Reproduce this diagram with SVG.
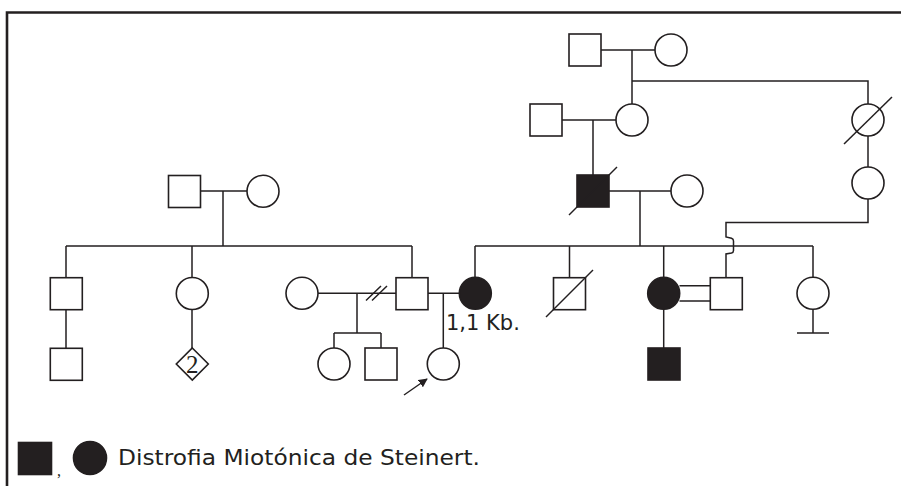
<svg xmlns="http://www.w3.org/2000/svg" width="901" height="486" viewBox="0 0 901 486">
<defs>
<style>
.ln{fill:none;stroke:#231f20;stroke-width:1.5}
.nd{fill:#fff;stroke:#231f20;stroke-width:1.6}
.af{fill:#231f20;stroke:#231f20;stroke-width:1.6}
.fr{fill:none;stroke:#231f20;stroke-width:2.6}
.lb{font-family:"DejaVu Sans",sans-serif;fill:#231f20}
.sf{font-family:"Liberation Serif",serif;fill:#231f20}
</style>
<marker id="ah" viewBox="0 0 10 10" refX="9" refY="5" markerWidth="9" markerHeight="9" markerUnits="userSpaceOnUse" orient="auto">
<path d="M0,0 L10,5 L0,10 z" fill="#231f20"/>
</marker>
</defs>
<rect width="901" height="486" fill="#fff"/>
<path class="fr" d="M7,486 V12.5 H901"/>
<g id="connectors">
<path class="ln" d="M601,50 H655 M632,50 V104 M632,81 H868 V104"/>
<path class="ln" d="M562,120 H616 M593,120 V175"/>
<path class="ln" d="M609,191 H671 M640,191 V246"/>
<path class="ln" d="M868,136 V167"/>
<path class="ln" d="M868,199 V222.5 H726 V237 L731.5,238.3 Q733.5,239 733.5,241 V250.5 Q733.5,252.5 731.5,253 L726,254 V277.7"/>
<path class="ln" d="M475,246 H813 M475,246 V277 M569.5,246 V277.7 M663.7,246 V277 M813,246 V277"/>
<path class="ln" d="M679.5,285.7 H710 M679.5,301 H710"/>
<path class="ln" d="M663.7,309 V348"/>
<path class="ln" d="M813,309 V333 M797,333 H829"/>
<path class="ln" d="M200,191 H247 M223,191 V246 M66,246 H412 M66,246 V278 M192,246 V277.5 M412,246 V278"/>
<path class="ln" d="M66,309 V348.5 M192,309.5 V348"/>
<path class="ln" d="M318,293.3 H396 M357,293.3 V333 M334,333 H381 M334,333 V348 M381,333 V348"/>
<path class="ln" d="M366,300.5 L381,286 M372,300.5 L387,286"/>
<path class="ln" d="M428,293.3 H459.3 M443.3,293.3 V348"/>
<path class="ln" d="M404,395 L427,379" stroke-width="2" marker-end="url(#ah)"/>
</g>
<g id="gen1-m"><rect class="nd" x="569" y="34" width="32" height="32"/></g>
<g id="gen1-f"><circle class="nd" cx="671" cy="50" r="16"/></g>
<g id="gen2-m"><rect class="nd" x="530" y="104" width="32" height="32"/></g>
<g id="gen2-f"><circle class="nd" cx="632" cy="120" r="16"/></g>
<g id="gen2-fd"><circle class="nd" cx="868" cy="120" r="16"/><path class="ln" d="M844,144 L892,97"/></g>
<g id="gen3-ma"><rect class="af" x="577" y="175" width="32" height="32"/><path class="ln" d="M569,215 L617,167"/></g>
<g id="gen3-f"><circle class="nd" cx="687" cy="191" r="16"/></g>
<g id="gen3-f2"><circle class="nd" cx="868" cy="183" r="16"/></g>
<g id="left-m"><rect class="nd" x="168.5" y="175.5" width="32" height="32"/></g>
<g id="left-f"><circle class="nd" cx="263" cy="191.3" r="16"/></g>
<g id="l1"><rect class="nd" x="50.3" y="277.7" width="32" height="32"/></g>
<g id="l1c"><rect class="nd" x="50.3" y="348.3" width="32" height="32"/></g>
<g id="l2"><circle class="nd" cx="192.3" cy="293.5" r="16"/></g>
<g id="l2c"><path class="nd" d="M192.3,348 L208.3,364 L192.3,380 L176.3,364 Z"/><text class="sf" x="192.3" y="373" font-size="25" text-anchor="middle">2</text></g>
<g id="exwife"><circle class="nd" cx="302" cy="293.3" r="16"/></g>
<g id="ch1"><circle class="nd" cx="334" cy="364" r="16"/></g>
<g id="ch2"><rect class="nd" x="365" y="348" width="32" height="32"/></g>
<g id="husband"><rect class="nd" x="396" y="277.7" width="32" height="32"/></g>
<g id="proband"><circle class="nd" cx="443.3" cy="364" r="16"/></g>
<g id="wife-a"><circle class="af" cx="475.3" cy="293.3" r="16"/><text class="lb" x="446" y="330" font-size="21">1,1 Kb.</text></g>
<g id="sib-d"><rect class="nd" x="553.5" y="277.7" width="32" height="32"/><path class="ln" d="M546,317 L593,270"/></g>
<g id="sib-a"><circle class="af" cx="663.7" cy="293.3" r="16"/></g>
<g id="sib-sp"><rect class="nd" x="710.3" y="277.7" width="32" height="32"/></g>
<g id="sib-f"><circle class="nd" cx="813" cy="293.3" r="16"/></g>
<g id="son-a"><rect class="af" x="648" y="348" width="32" height="32"/></g>
<g id="legend">
<rect class="af" x="18.5" y="442.5" width="33" height="32"/>
<text class="sf" x="57" y="476" font-size="16">,</text>
<circle class="af" cx="90" cy="458" r="16.5"/>
<text class="lb" x="118" y="465" font-size="22" textLength="362" lengthAdjust="spacingAndGlyphs">Distrofia Miotónica de Steinert.</text>
</g>
</svg>
